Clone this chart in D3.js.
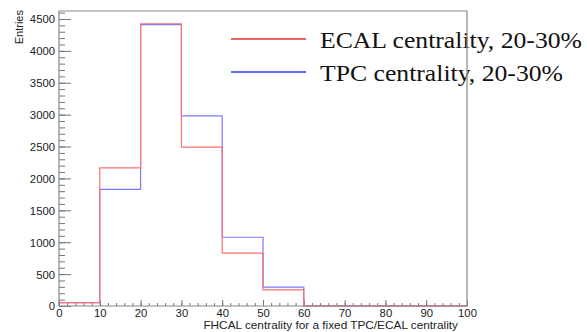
<!DOCTYPE html>
<meta charset="utf-8">
<title>FHCAL centrality</title>
<style>
body { margin: 0; background: #fff; }
svg { display: block; }
.tick text { font-family: "Liberation Sans", Arial, sans-serif; font-size: 11.3px; fill: #222; }
</style>
<body>
<script src="https://cdn.jsdelivr.net/npm/d3@7"></script>
<script>
'use strict';

// bin edges of the FHCAL centrality histogram (%)
const binEdges = [0, 10, 20, 30, 40, 50, 60, 70, 80, 90, 100];
// entries per bin
const ecalEntries = [52, 2165, 4425, 2490, 828, 252, 2, 2, 2, 2];
const tpcEntries  = [52, 1830, 4410, 2980, 1078, 295, 2, 2, 2, 2];
const seriesNames = ["ECAL centrality, 20-30%", "TPC centrality, 20-30%"];
const yTicks = [0, 500, 1000, 1500, 2000, 2500, 3000, 3500, 4000, 4500];
const xTicks = [0, 10, 20, 30, 40, 50, 60, 70, 80, 90, 100];

const width = 587, height = 332;
const frame = {left: 59, right: 467, top: 11, bottom: 306};

const svg = d3.select("body").append("svg")
    .attr("width", width)
    .attr("height", height);

const x = d3.scaleLinear().domain([0, 100]).range([frame.left, frame.right]);
const y = d3.scaleLinear().domain([0, 4625]).range([frame.bottom, frame.top]);

// y axis: ticks point inward (to the right)
const yMinor = d3.range(0, 4601, 100);
svg.append("g")
    .attr("transform", "translate(" + frame.left + ",0)")
    .call(d3.axisRight(y).tickValues(yMinor).tickSize(6).tickFormat(""))
    .call(g => g.select(".domain").remove())
    .selectAll("line").attr("stroke", "#777");
svg.append("g")
    .attr("transform", "translate(" + frame.left + ",0)")
    .call(d3.axisLeft(y).tickValues(yTicks).tickSize(-12).tickFormat(d3.format("d")))
    .call(g => g.select(".domain").remove())
    .call(g => g.selectAll("line").attr("stroke", "#777"))
    .call(g => g.selectAll("text").attr("dy", "0.35em").attr("x", -4));

// x axis: ticks point inward (upwards)
svg.append("g")
    .attr("transform", "translate(0," + frame.bottom + ")")
    .call(d3.axisTop(x).tickValues(d3.range(0, 101, 2)).tickSize(3).tickFormat(""))
    .call(g => g.select(".domain").remove())
    .selectAll("line").attr("stroke", "#777");
svg.append("g")
    .attr("transform", "translate(0," + frame.bottom + ")")
    .call(d3.axisBottom(x).tickValues(xTicks).tickSize(-6).tickFormat(d3.format("d")))
    .call(g => g.select(".domain").remove())
    .call(g => g.selectAll("line").attr("stroke", "#777"))
    .call(g => g.selectAll("text").attr("y", 3).attr("dy", "0.71em"));

// axis titles
svg.append("text")
    .attr("transform", "translate(23," + (frame.top - 1) + ") rotate(-90)")
    .attr("text-anchor", "end")
    .style("font-family", "Liberation Sans, Arial, sans-serif")
    .style("font-size", "11px")
    .attr("fill", "#222")
    .text("Entries");

svg.append("text")
    .attr("x", 458)
    .attr("y", 329)
    .attr("text-anchor", "end")
    .style("font-family", "Liberation Sans, Arial, sans-serif")
    .style("font-size", "11.8px")
    .attr("fill", "#222")
    .text("FHCAL centrality for a fixed TPC/ECAL centrality");

// step outline for a histogram
function stepPath(vals) {
  const pts = [[binEdges[0], 0]];
  vals.forEach((v, i) => {
    pts.push([binEdges[i], v]);
    pts.push([binEdges[i + 1], v]);
  });
  pts.push([binEdges[binEdges.length - 1], 0]);
  return d3.line().x(d => x(d[0])).y(d => y(d[1]))(pts);
}

svg.append("path")
    .attr("d", stepPath(tpcEntries))
    .attr("fill", "none")
    .attr("stroke", "#7a7aff")
    .attr("stroke-width", 1.2);
svg.append("path")
    .attr("d", stepPath(ecalEntries))
    .attr("fill", "none")
    .attr("stroke", "#ff7070")
    .attr("stroke-width", 1.2);

// legend
const legendColors = ["#e8332e", "#2f3ee8"];
const legendWidths = [262, 243];
const legend = svg.append("g");
seriesNames.forEach((name, i) => {
  const ly = 39 + i * 33;
  legend.append("line")
      .attr("x1", 231).attr("x2", 306)
      .attr("y1", ly).attr("y2", ly)
      .attr("stroke", legendColors[i])
      .attr("stroke-width", 1.5);
  legend.append("text")
      .attr("x", 320)
      .attr("y", ly + 9)
      .attr("textLength", legendWidths[i])
      .attr("lengthAdjust", "spacingAndGlyphs")
      .style("font-family", "Liberation Serif, Times New Roman, serif")
      .style("font-size", "24px")
      .attr("fill", "#111")
      .text(name);
});

// frame drawn last so its right edge crosses the legend text
svg.append("path")
    .attr("d", "M" + frame.left + "," + frame.bottom + "V" + frame.top + "H" + frame.right + "V" + frame.bottom + "H" + frame.left)
    .attr("fill", "none")
    .attr("stroke", "#888")
    .attr("stroke-width", 1.2);
</script>
